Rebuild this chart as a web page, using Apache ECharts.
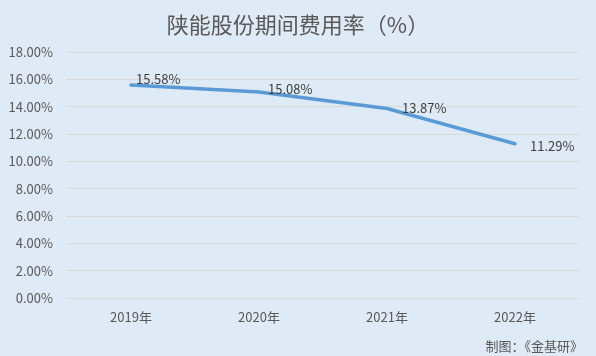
<!DOCTYPE html>
<html><head><meta charset="utf-8">
<script src="https://cdn.jsdelivr.net/npm/echarts@6/dist/echarts.min.js"></script>
<style>html,body{margin:0;padding:0;background:#deeaf6;}#c{width:596px;height:356px;}</style>
</head><body><div id="c"></div>
<script>
const categories = ['2019年', '2020年', '2021年', '2022年'];
const rates = [15.58, 15.08, 13.87, 11.29];
const labelOffsets = [[-4, -6], [0, -3], [6, 0], [6, 2]];
const titleText = '陕能股份期间费用率（%）';
const footerText = '制图：《金基研》';

const font = '"Noto Sans CJK SC", sans-serif';
const chart = echarts.init(document.getElementById('c'));
chart.setOption({
  backgroundColor: '#deeaf6',
  title: [{
    text: titleText, left: 'center', top: 9,
    textStyle: { fontFamily: font, fontSize: 22, fontWeight: 'normal', color: '#595959' }
  }, {
    text: footerText, right: 8, top: 335,
    textStyle: { fontFamily: font, fontSize: 13, fontWeight: 'normal', color: '#595959' }
  }],
  grid: { left: 67, right: 17, top: 52, bottom: 58 },
  xAxis: {
    type: 'category', data: categories, boundaryGap: true,
    axisLine: { show: false }, axisTick: { show: false },
    axisLabel: { fontFamily: font, fontSize: 13, color: '#595959', margin: 13 }
  },
  yAxis: {
    type: 'value', min: 0, max: 18, interval: 2,
    axisLine: { show: false }, axisTick: { show: false },
    splitLine: { lineStyle: { color: '#d9d9d9', width: 1 } },
    axisLabel: { fontFamily: font, fontSize: 13, color: '#595959', margin: 14,
      formatter: v => v.toFixed(2) + '%' }
  },
  series: [{
    type: 'line',
    data: rates.map((v, i) => ({ value: v, label: { offset: labelOffsets[i] } })),
    symbol: 'circle', symbolSize: 2, showSymbol: true,
    itemStyle: { color: 'rgba(0,0,0,0)', borderWidth: 0 },
    lineStyle: { color: '#5b9bd5', width: 3.5, cap: 'round' },
    label: {
      show: true, position: 'right', distance: 8,
      fontFamily: font, fontSize: 13, color: '#404040',
      formatter: p => p.value.toFixed(2) + '%'
    },
    animation: false
  }],
  animation: false
});
</script></body></html>
